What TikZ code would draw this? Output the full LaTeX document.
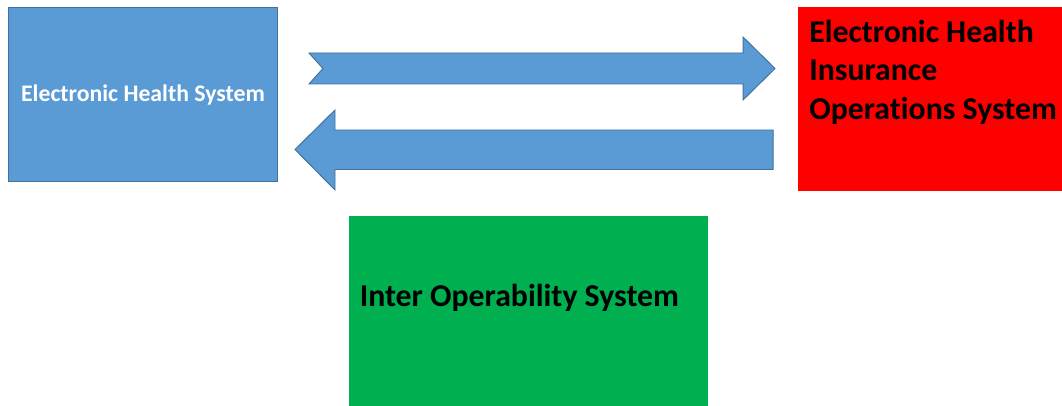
\documentclass[tikz,border=0pt]{standalone}
\usepackage{fontspec}
\setmainfont{Carlito}[Ligatures=NoCommon]
\usepackage{tikz}
\usetikzlibrary{calc}
\definecolor{boxblue}{HTML}{5B9BD5}
\definecolor{edgeblue}{HTML}{41719C}
\definecolor{boxgreen}{HTML}{00B050}
\tikzset{
	bluepart/.style={fill=boxblue, draw=edgeblue, line width=0.7pt},
	sysbox/.style={rectangle, anchor=north west, inner sep=0pt, outer sep=0pt},
	bigtext/.style={inner sep=0pt, font=\bfseries\fontsize{22.6}{27.3}\selectfont}
}

\begin{document}
\begin{tikzpicture}[x=0.025cm, y=-0.025cm]
			%%%%% START %%%%%
			\useasboundingbox (0, 0) rectangle (1062, 406);
			
			\node[sysbox, bluepart, minimum width=269*0.025cm, minimum height=174*0.025cm] (ehs) at (8, 7) {};
			\node[inner sep=0pt, anchor=base, text=white, font=\bfseries\fontsize{16.9}{20}\selectfont] (ehstext) at (143, 101.5) {Electronic Health System};
			
			\node[sysbox, fill=red, minimum width=264*0.025cm, minimum height=184*0.025cm] (ehios) at (798, 7) {};
			\node[bigtext, anchor=north west, align=left] (ehiostext) at (809, 20) {Electronic Health\\Insurance\\Operations System};
			
			\node[sysbox, fill=boxgreen, minimum width=359*0.025cm, minimum height=190*0.025cm] (ios) at (349, 216) {};
			\node[bigtext, anchor=base west] (iostext) at (359.5, 306.5) {Inter Operability System};
			
			% arrow to the insurance system
			\draw[bluepart] (309, 53) -- (743, 53) -- (743, 37) -- (775, 68.5) -- (743, 100) -- (743, 84) -- (309, 84) -- (323, 68.5) -- cycle;
			
			% arrow back to the health system
			\draw[bluepart] (773, 130) -- (335, 130) -- (335, 110) -- (295, 149.5) -- (335, 190) -- (335, 169.5) -- (773, 169.5) -- cycle;
			
			%%%%% END %%%%%
\end{tikzpicture}
\end{document}
